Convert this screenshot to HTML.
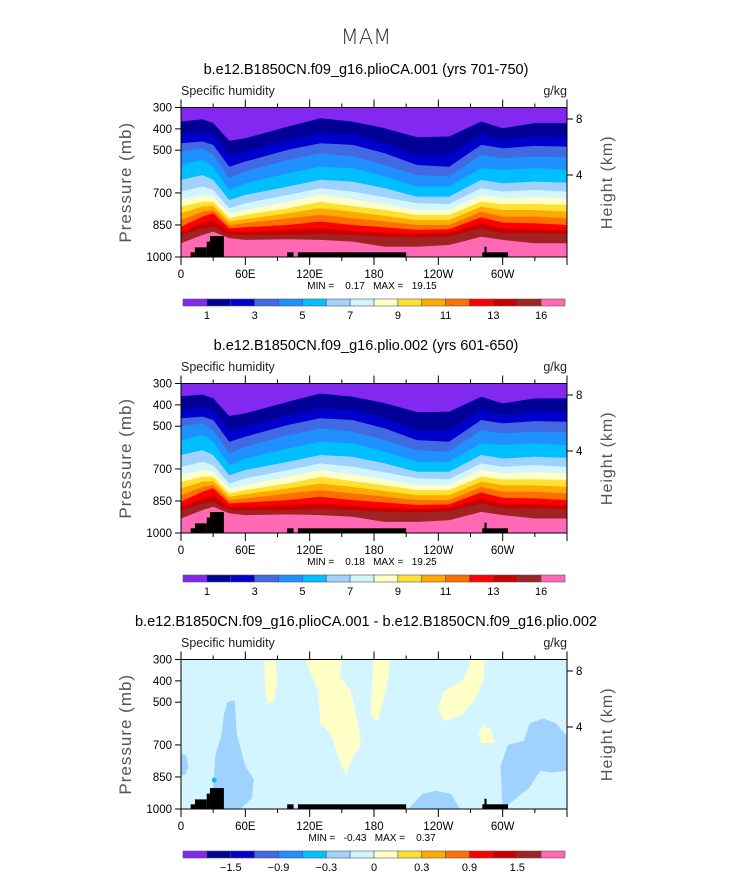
<!DOCTYPE html>
<html><head><meta charset="utf-8">
<style>
html,body{margin:0;padding:0;background:#fff;}
svg{display:block;font-family:"Liberation Sans",sans-serif;}
.pre{white-space:pre;}
</style></head>
<body>
<svg id="fig" width="733" height="888" viewBox="0 0 733 888" xmlns="http://www.w3.org/2000/svg">
<text x="366" y="44" text-anchor="middle" font-size="21" font-weight="300" fill="#333" style="font-family:'DejaVu Sans','Liberation Sans',sans-serif;font-weight:200">MAM</text>
</svg>
<script>
// ---------- data ----------
const lons = [0,20,30,45,60,100,130,160,190,220,250,280,300,330,360];
const bndA = [
 [366,355,373,456,444,389,350,366,397,439,436,366,397,373,373],
 [428,416,428,522,506,452,420,428,467,522,522,428,452,436,439],
 [467,459,475,577,553,498,467,475,514,569,577,475,491,480,483],
 [506,491,522,631,600,545,514,530,569,616,623,522,537,530,533],
 [569,545,577,686,655,608,577,584,623,670,670,584,592,584,592],
 [639,616,639,733,709,670,639,647,678,717,717,639,655,647,652],
 [694,670,686,772,748,709,678,694,720,748,752,678,694,686,694],
 [733,709,717,795,780,741,709,730,752,780,780,709,725,720,725],
 [764,741,741,819,803,772,741,761,780,803,803,741,753,752,756],
 [795,764,761,834,823,795,772,788,808,827,827,764,780,780,788],
 [827,788,780,850,842,819,803,819,834,850,850,788,811,811,819],
 [858,811,795,866,861,850,834,850,861,873,870,814,839,842,850],
 [881,842,827,881,881,873,866,877,886,892,886,842,866,870,873],
 [897,866,858,897,897,897,892,897,905,908,902,866,889,889,892],
 [936,897,881,912,920,917,920,928,952,952,944,905,920,936,936]
];
const bndB = [
 [360,352,370,452,440,385,347,362,392,434,432,362,393,370,370],
 [424,412,425,518,502,448,416,424,462,518,518,424,448,432,435],
 [463,455,471,573,549,494,463,471,510,565,573,471,487,476,479],
 [502,487,518,627,596,541,510,526,565,612,619,518,533,526,529],
 [565,541,573,682,651,604,573,580,619,666,666,580,588,580,588],
 [635,612,635,729,705,666,635,643,674,713,713,635,651,643,648],
 [690,666,682,768,744,705,674,690,716,744,748,674,690,682,690],
 [729,705,713,791,776,737,705,726,748,776,776,705,721,716,721],
 [760,737,737,815,799,768,737,757,776,799,799,737,749,748,752],
 [791,760,757,830,819,791,768,784,804,823,823,760,776,776,784],
 [823,784,776,846,838,815,799,815,830,846,846,784,807,807,815],
 [854,807,791,862,857,846,830,846,857,869,866,810,835,838,846],
 [877,838,823,877,877,869,862,873,882,888,882,838,862,866,869],
 [893,862,854,893,893,893,888,893,901,904,898,862,885,885,888],
 [932,893,877,908,916,913,916,924,948,948,940,901,916,932,932]
];
const colors = ["#8228f0","#000096","#0000cd","#4169e1","#1e90ff","#00bfff","#a0d2ff","#d2f5ff","#ffffc8","#ffe132","#ffaa00","#ff6e00","#ff0000","#c80000","#a02323","#ff69b4"];
const labelsA = ["1","3","5","7","9","11","13","16"];
const labelIdxA = [1,3,5,7,9,11,13,15];
const labelsD = ["-1.5","-0.9","-0.3","0","0.3","0.9","1.5"];
const labelIdxD = [2,4,6,8,10,12,14];
const topoLon0 = [9,13,24,27,99,109,281,283];
const topoLon1 = [13,24,27,40,105,210,305,285];
const topoP = [978,955,928,902,978,978,978,952];
const blobYellow = [
 [[78,310],[88,305],[90,400],[86,500],[80,505],[78,400]],
 [[116,300],[150,300],[148,380],[158,440],[165,600],[168,700],[160,760],[154,840],[150,800],[140,650],[130,600],[128,450],[120,350]],
 [[180,300],[195,300],[193,400],[188,500],[183,590],[177,560],[178,420]],
 [[270,300],[283,300],[282,400],[275,480],[262,560],[245,590],[240,530],[245,450],[262,400],[268,340]],
 [[277,640],[283,610],[290,630],[292,690],[280,692]]
];
const blobBlue = [
 [[0,740],[5,750],[7,800],[4,840],[0,845]],
 [[43,500],[50,490],[52,650],[60,800],[68,860],[66,950],[55,1000],[40,1000],[30,900],[32,750],[38,650],[40,560]],
 [[212,1000],[225,930],[238,915],[252,930],[260,1000]],
 [[300,1000],[298,800],[305,700],[320,680],[325,600],[338,575],[350,600],[360,660],[360,820],[345,830],[335,820],[325,900],[310,960]]
];
const panelTitles = ["b.e12.B1850CN.f09_g16.plioCA.001 (yrs 701-750)","b.e12.B1850CN.f09_g16.plio.002 (yrs 601-650)","b.e12.B1850CN.f09_g16.plioCA.001 - b.e12.B1850CN.f09_g16.plio.002"];
const minmax = ["MIN =    0.17   MAX =   19.15","MIN =    0.18   MAX =   19.25","MIN =   -0.43   MAX =    0.37"];
const pTicks = [300,400,500,700,850,1000];
const xTickLabels = ["0","60E","120E","180","120W","60W"];
const xTickLons = [0,60,120,180,240,300];
const hTicks = [[8,119],[4,175]];

// ---------- drawing ----------
const NS="http://www.w3.org/2000/svg";
const svg=document.getElementById('fig');
const X0=181,X1=567,H=149.5;
function mk(tag,attrs,parent){const e=document.createElementNS(NS,tag);for(const k in attrs)e.setAttribute(k,attrs[k]);(parent||svg).appendChild(e);return e;}
function xOf(lon){return X0+lon/360*(X1-X0);}
function txt(s,a,parent){const t=mk('text',a,parent);t.textContent=s;return t;}

for(let pi=0;pi<3;pi++){
  const off=pi*276;
  const Y0=107.5+off;
  const yOf=p=>Y0+(p-300)/700*H;
  const g=mk('g',{});
  
  
  const tt=txt(panelTitles[pi],{x:366,y:74+off,'text-anchor':'middle','font-size':14.5,fill:'#000'},g);
  
  
  const sh=txt('Specific humidity',{x:181,y:95+off,'font-size':12.5,fill:'#222'},g);
  
  
  const un=txt('g/kg',{x:567,y:95+off,'text-anchor':'end','font-size':12.5,fill:'#222'},g);
  
  
  const clip=mk('clipPath',{id:'c'+pi},g);
  mk('rect',{x:X0,y:Y0,width:X1-X0,height:H},clip);
  const plot=mk('g',{'clip-path':'url(#c'+pi+')'},g);
  
  
  if(pi<2){
    const bnd=pi===0?bndA:bndB;
    const bg=mk('rect',{x:X0,y:Y0,width:X1-X0,height:H,fill:colors[0]},plot);
    
    
    bnd.forEach((row,k)=>{
      let d='M'+xOf(lons[0])+','+yOf(1000);
      row.forEach((p,i)=>{d+=' L'+xOf(lons[i]).toFixed(1)+','+yOf(p).toFixed(1);});
      d+=' L'+xOf(lons[lons.length-1])+','+yOf(1000)+'Z';
      const b=mk('path',{d:d,fill:colors[k+1]},plot);
      
      
    });
  } else {
    const bg=mk('rect',{x:X0,y:Y0,width:X1-X0,height:H,fill:colors[7]},plot);
    
    
    const drawBlob=(pts,col,name)=>{
      const d='M'+pts.map(q=>xOf(q[0]).toFixed(1)+','+yOf(q[1]).toFixed(1)).join(' L')+'Z';
      const b=mk('path',{d:d,fill:col},plot);
      
      
    };
    blobYellow.forEach(b=>drawBlob(b,colors[8],'positive-region'));
    blobBlue.forEach(b=>drawBlob(b,colors[6],'negative-region'));
    const s=mk('circle',{cx:xOf(31),cy:yOf(865),r:2.5,fill:colors[5]},plot);
    
    
  }
  topoP.forEach((p,i)=>{
    const r=mk('rect',{x:xOf(topoLon0[i]),y:yOf(p),width:xOf(topoLon1[i])-xOf(topoLon0[i]),height:yOf(1000)-yOf(p),fill:'#000'},plot);
    
    
  });
  const fr=mk('rect',{x:X0,y:Y0,width:X1-X0,height:H,fill:'none',stroke:'#000','stroke-width':1},g);
  
  
  for(let lon=0;lon<=360;lon+=30){
    const x=xOf(lon),major=lon%60===0;
    mk('line',{x1:x,x2:x,y1:Y0,y2:Y0-(major?8:4),stroke:'#000'},g);
    mk('line',{x1:x,x2:x,y1:Y0+H,y2:Y0+H+(major?8:4),stroke:'#000'},g);
  }
  xTickLabels.forEach((s,i)=>{
    const t=txt(s,{x:xOf(xTickLons[i]),y:Y0+H+21,'text-anchor':'middle','font-size':11.5,fill:'#000'},g);
    
    
  });
  pTicks.forEach(p=>{
    const y=yOf(p);
    mk('line',{x1:X0,x2:X0-6,y1:y,y2:y,stroke:'#000'},g);
    const t=txt(String(p),{x:X0-9,y:y+4,'text-anchor':'end','font-size':11.5,fill:'#000'},g);
    
    
  });
  hTicks.forEach(h=>{
    const y=h[1]+off;
    mk('line',{x1:X1,x2:X1+6,y1:y,y2:y,stroke:'#000'},g);
    const t=txt(String(h[0]),{x:X1+9,y:y+4,'font-size':11.5,fill:'#000'},g);
    
    
  });
  const yl=txt('Pressure (mb)',{x:0,y:0,transform:'translate(131,'+(Y0+H/2)+') rotate(-90)','text-anchor':'middle','font-size':17,fill:'#555','letter-spacing':'1'},g);
  
  
  const hl=txt('Height (km)',{x:0,y:0,transform:'translate(612,'+(Y0+H/2)+') rotate(-90)','text-anchor':'middle','font-size':16,fill:'#555','letter-spacing':'1'},g);
  
  
  const mm=txt(minmax[pi],{x:372,y:Y0+H+32,'text-anchor':'middle','font-size':10,fill:'#000','class':'pre'},g);
  
  
  const cb=mk('g',{},g);
  
  
  const cx0=183,cw=(565-183)/16,cy=299+off;
  colors.forEach((c,i)=>{
    const r=mk('rect',{x:cx0+i*cw,y:cy,width:cw,height:7,fill:c,stroke:'#555','stroke-width':0.6},cb);
    
    
  });
  const labs=pi<2?labelsA:labelsD, idx=pi<2?labelIdxA:labelIdxD;
  labs.forEach((s,i)=>{
    const t=txt(s.replace('-','\u2212'),{x:cx0+idx[i]*cw,y:cy+20,'text-anchor':'middle','font-size':11,fill:'#000'},cb);
    
    
  });
}
</script>
</body></html>
